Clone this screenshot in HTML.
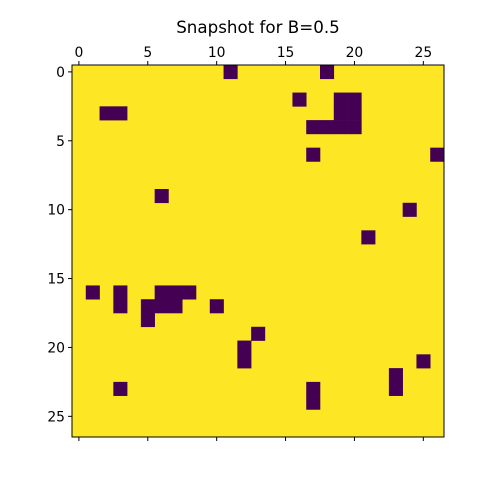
<!DOCTYPE html>
<html><head><meta charset="utf-8"><style>
body{margin:0;background:#fff;}
svg text{font-family:"DejaVu Sans","Liberation Sans",sans-serif;}
</style></head><body>
<svg id="chart" width="480" height="480" xmlns="http://www.w3.org/2000/svg">
<rect width="480" height="480" fill="#fff"/>
<text x="258" y="33" font-size="16.7" text-anchor="middle">Snapshot for B=0.5</text>
<g id="cells"></g>
<g id="ticks"></g>
<rect x="72" y="65" width="372" height="372" fill="none" stroke="#000" stroke-width="1"/>
</svg>
<script>
const gridSize = 27;
const darkRows = [0,0,2,2,2,3,3,3,3,4,4,4,4,6,6,9,10,12,16,16,16,16,16,17,17,17,17,17,18,19,20,21,21,22,23,23,23,24];
const darkCols = [11,18,16,19,20,2,3,19,20,17,18,19,20,17,26,6,24,21,1,3,6,7,8,3,5,6,7,10,5,13,12,12,25,23,3,17,23,17];
const tickValues = [0,5,10,15,20,25];
const L=72,T=65,S=372,cell=S/gridSize;
const xPos=c=>L+c*cell, yPos=r=>T+r*cell;
const NS="http://www.w3.org/2000/svg";
const cg=document.getElementById('cells'), tg=document.getElementById('ticks');
function mk(tag,a,p){const e=document.createElementNS(NS,tag);for(const k in a)e.setAttribute(k,a[k]);p.appendChild(e);return e;}
const bg=mk('rect',{x:L,y:T,width:S,height:S,fill:'#fde725'},cg);


for(let i=0;i<darkRows.length;i++){
  const r=mk('rect',{x:xPos(darkCols[i]),y:yPos(darkRows[i]),width:cell+0.3,height:cell+0.3,fill:'#440154'},cg);
  
  
}
tickValues.forEach(v=>{
  const x=xPos(v+0.5), y=yPos(v+0.5);
  const t1=mk('line',{x1:x,y1:T,x2:x,y2:T-4,stroke:'#000'},tg);
  
  
  const l1=mk('text',{x:x,y:T-8,'font-size':13.9,'text-anchor':'middle'},tg);l1.textContent=v;
  
  
  const t2=mk('line',{x1:x,y1:T+S,x2:x,y2:T+S+4,stroke:'#000'},tg);
  
  
  const t3=mk('line',{x1:L,y1:y,x2:L-4,y2:y,stroke:'#000'},tg);
  
  
  const l3=mk('text',{x:L-7,y:y+5,'font-size':13.9,'text-anchor':'end'},tg);l3.textContent=v;
  
  
});
</script>
</body></html>
